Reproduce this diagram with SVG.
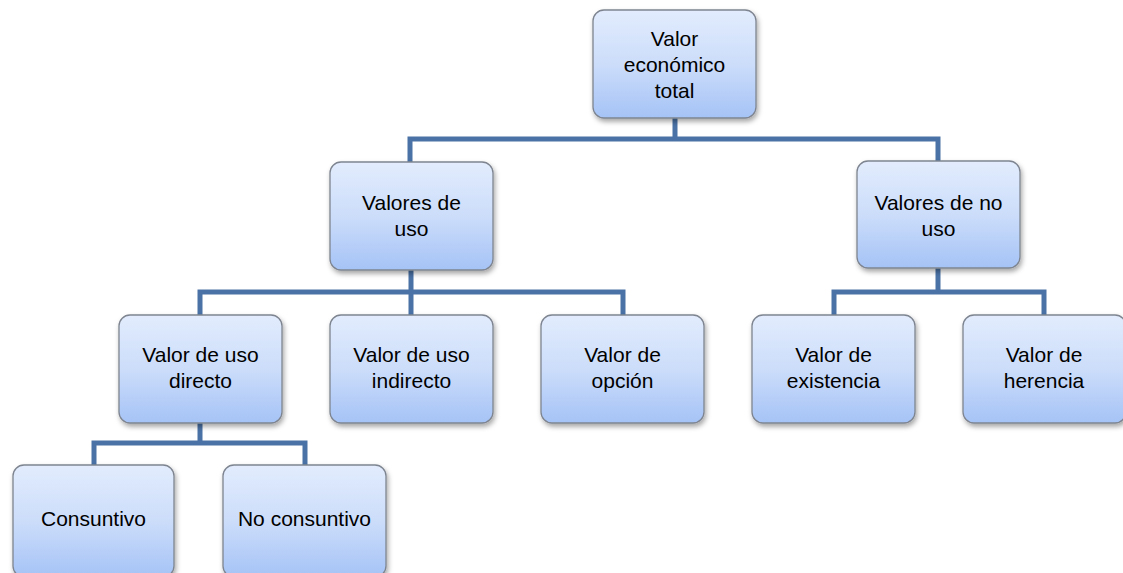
<svg xmlns="http://www.w3.org/2000/svg" width="1123" height="573" viewBox="0 0 1123 573">
<defs>
<linearGradient id="g" x1="0" y1="0" x2="0" y2="1">
<stop offset="0" stop-color="#E2ECFD"/>
<stop offset="0.5" stop-color="#CCDDFA"/>
<stop offset="1" stop-color="#A5C3F6"/>
</linearGradient>
<filter id="sh" x="-10%" y="-10%" width="125%" height="130%">
<feDropShadow dx="1.5" dy="3" stdDeviation="2.5" flood-color="#000" flood-opacity="0.35"/>
</filter>
</defs>
<style>
.box{fill:url(#g);stroke:#7E8590;stroke-width:1.3;filter:url(#sh)}
.t{font-family:"Liberation Sans",Arial,sans-serif;font-size:21px;fill:#000;text-anchor:middle}
.c{fill:none;stroke:#4A72A6;stroke-width:5;stroke-linejoin:miter;stroke-linecap:butt}
</style>
<rect width="1123" height="573" fill="#fff"/>
<g id="connectors">
<path class="c" d="M675,118 V139 M410,162 V139 H938 V162"/>
<path class="c" d="M411,270 V292 M200,315 V292 H623 V315 M411,292 V315"/>
<path class="c" d="M938,268 V292 M834,315 V292 H1044 V315"/>
<path class="c" d="M200,423 V443 M94,465 V443 H305 V465"/>
</g>
<g id="n_total"><rect class="box" x="593" y="10" width="163" height="108" rx="11"/>
<text class="t" x="674.5" y="46">Valor</text><text class="t" x="674.5" y="72">económico</text><text class="t" x="674.5" y="98">total</text></g>
<g id="n_uso"><rect class="box" x="330" y="162" width="163" height="108" rx="11"/>
<text class="t" x="411.5" y="210">Valores de</text><text class="t" x="411.5" y="236">uso</text></g>
<g id="n_nouso"><rect class="box" x="857" y="161" width="163" height="107" rx="11"/>
<text class="t" x="938.5" y="210">Valores de no</text><text class="t" x="938.5" y="236">uso</text></g>
<g id="n_directo"><rect class="box" x="119" y="315" width="163" height="108" rx="11"/>
<text class="t" x="200.5" y="362">Valor de uso</text><text class="t" x="200.5" y="388">directo</text></g>
<g id="n_indirecto"><rect class="box" x="330" y="315" width="163" height="108" rx="11"/>
<text class="t" x="411.5" y="362">Valor de uso</text><text class="t" x="411.5" y="388">indirecto</text></g>
<g id="n_opcion"><rect class="box" x="541" y="315" width="163" height="108" rx="11"/>
<text class="t" x="622.5" y="362">Valor de</text><text class="t" x="622.5" y="388">opción</text></g>
<g id="n_existencia"><rect class="box" x="752" y="315" width="163" height="108" rx="11"/>
<text class="t" x="833.5" y="362">Valor de</text><text class="t" x="833.5" y="388">existencia</text></g>
<g id="n_herencia"><rect class="box" x="963" y="315" width="163" height="108" rx="11"/>
<text class="t" x="1044" y="362">Valor de</text><text class="t" x="1044" y="388">herencia</text></g>
<g id="n_consuntivo"><rect class="box" x="13" y="465" width="161" height="112" rx="11"/>
<text class="t" x="93.5" y="526">Consuntivo</text></g>
<g id="n_noconsuntivo"><rect class="box" x="223" y="465" width="163" height="112" rx="11"/>
<text class="t" x="304.5" y="526">No consuntivo</text></g>
</svg>
